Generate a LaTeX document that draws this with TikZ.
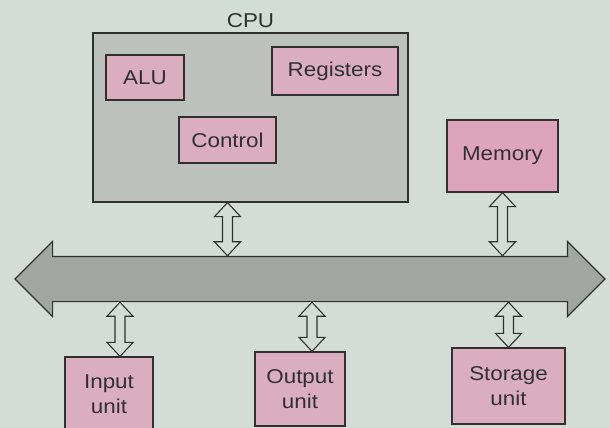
\documentclass[tikz,border=0pt]{standalone}
\usepackage{fontspec}
\setmainfont{Liberation Sans}[FakeStretch=1.12]
\usetikzlibrary{positioning, shapes.arrows, calc}
\definecolor{paper}{RGB}{212,220,216}
\definecolor{cpugray}{RGB}{188,193,189}
\definecolor{unitpink}{RGB}{218,174,190}
\definecolor{mempink}{RGB}{222,164,188}
\definecolor{busgray}{RGB}{162,166,160}
\definecolor{ink}{RGB}{48,48,48}
\newcommand{\unitfont}{\fontsize{20}{25}\selectfont}
\tikzset{
  unitbox/.style={draw=ink, line width=1.2pt, fill=#1, align=center,
      font=\unitfont, text=ink, inner sep=2pt},
  cpubox/.style={draw=ink, line width=1.2pt, fill=cpugray},
  titletext/.style={font=\unitfont, text=ink, inner sep=1pt},
  busarrow/.style={double arrow, draw=ink, line width=1.2pt, fill=busgray,
      double arrow head extend=15pt, double arrow tip angle=90,
      inner xsep=0pt, inner ysep=22pt},
  duplexline/.style={draw=ink, line width=1.1pt, fill=paper, line join=miter},
}
% hollow two-way link between a top point and a bottom point
\newcommand{\duplex}[2]{%
  \draw[duplexline] let \p1=#1, \p2=#2 in
    (\x1,\y1) -- ({\x1+13pt},{\y1-14pt}) -- ({\x1+5pt},{\y1-14pt})
    -- ({\x1+5pt},{\y2+14pt}) -- ({\x1+13pt},{\y2+14pt}) -- (\x1,\y2)
    -- ({\x1-13pt},{\y2+14pt}) -- ({\x1-5pt},{\y2+14pt})
    -- ({\x1-5pt},{\y1-14pt}) -- ({\x1-13pt},{\y1-14pt}) -- cycle;}

\begin{document}
\begin{tikzpicture}[x=1pt, y=-1pt]
  \fill[paper] (0,0) rectangle (610,428);
  \useasboundingbox (0,0) rectangle (610,428);

  % processor
  \node[cpubox, minimum width=315pt, minimum height=169pt] (cpu) at (250.5,117.5) {};
  \node[titletext, above=4pt of cpu] (cputitle) {CPU};
  \node[unitbox=unitpink, minimum width=78pt, minimum height=45pt] (alu) at (145,77.5) {ALU};
  \node[unitbox=unitpink, minimum width=126pt, minimum height=48pt] (reg) at (335,71) {Registers};
  \node[unitbox=unitpink, minimum width=97pt, minimum height=46pt] (ctrl) at (227.5,140) {Control};
  \node[unitbox=mempink, minimum width=111pt, minimum height=72pt] (mem) at (502.5,156) {Memory};

  % system bus
  \node[busarrow, minimum height=590pt, minimum width=74pt] (bus) at (310,279) {};

  % peripheral units
  \node[unitbox=unitpink, minimum width=88pt, minimum height=75pt] (input) at (109,394.5) {Input\\unit};
  \node[unitbox=unitpink, minimum width=90pt, minimum height=74pt] (output) at (300,389) {Output\\unit};
  \node[unitbox=unitpink, minimum width=113pt, minimum height=76pt] (store) at (508.5,386) {Storage\\unit};

  % links to the bus
  \coordinate (inport) at ($(input.north)+(11,0)$);
  \coordinate (outport) at ($(output.north)+(12,0)$);
  \duplex{(ctrl.south |- cpu.south)}{(ctrl.south |- bus.north)}
  \duplex{(mem.south)}{(mem.south |- bus.north)}
  \duplex{(inport |- bus.south)}{(inport)}
  \duplex{(outport |- bus.south)}{(outport)}
  \duplex{(store.north |- bus.south)}{(store.north)}
\end{tikzpicture}
\end{document}
